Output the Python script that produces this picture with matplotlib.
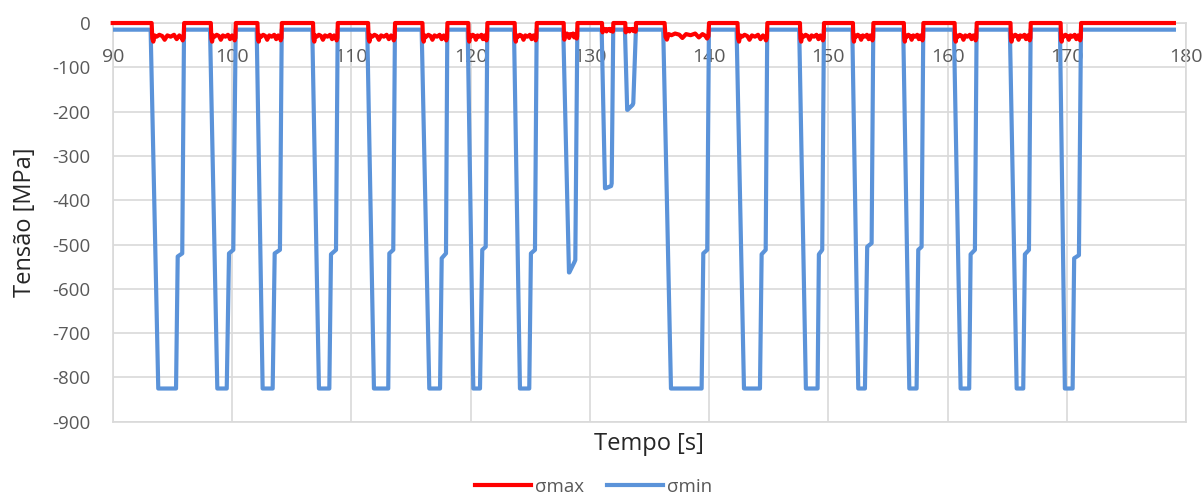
import matplotlib
matplotlib.use("Agg")
import matplotlib.pyplot as plt

plt.rcParams['font.family'] = ['Open Sans', 'DejaVu Sans']
plt.rcParams['axes.unicode_minus'] = False

# time limits of the signal
t_first = 90.0
t_last = 178.96

# blue (sigma min) keypoints per load cycle
cycle_start  = [93.18, 98.16, 102.07, 106.73, 111.34, 115.90, 119.76, 123.64, 127.77, 130.99, 132.94, 136.15, 142.30, 147.55, 152.00, 156.27, 160.52, 165.21, 169.41]
bottom_start = [93.82, 98.77, 102.57, 107.29, 111.90, 116.54, 120.23, 124.14, 128.25, 131.27, 133.13, 136.80, 142.92, 148.11, 152.50, 156.78, 161.08, 165.78, 169.82]
bottom_end   = [95.31, 99.56, 103.41, 108.16, 113.10, 117.44, 120.79, 124.92, 128.28, 131.30, 133.16, 139.37, 144.26, 149.09, 153.06, 157.39, 161.80, 166.33, 170.47]
step_start   = [95.45, 99.75, 103.58, 108.30, 113.19, 117.58, 120.98, 125.06, 128.70, 131.78, 133.58, 139.51, 144.40, 149.20, 153.25, 157.53, 161.92, 166.47, 170.60]
step_end     = [95.83, 100.11, 104.02, 108.72, 113.52, 117.94, 121.27, 125.40, 128.78, 131.83, 133.64, 139.84, 144.74, 149.48, 153.62, 157.81, 162.28, 166.81, 171.00]
cycle_end    = [95.98, 100.31, 104.17, 108.86, 113.66, 118.05, 121.40, 125.54, 128.95, 131.96, 133.86, 139.98, 144.87, 149.62, 153.76, 157.95, 162.42, 166.95, 171.17]
bottom_val   = [-825, -825, -825, -825, -825, -825, -825, -825, -563, -373, -196, -825, -825, -825, -825, -825, -825, -825, -825]
step_lo_val  = [-527, -520, -520, -522, -520, -531, -512, -520, -540, -368, -185, -520, -522, -522, -505, -512, -522, -522, -531]
step_hi_val  = [-520, -512, -512, -512, -512, -520, -505, -512, -535, -362, -181, -512, -512, -512, -497, -505, -512, -512, -524]
blue_top = -15

# red (sigma max) dip depth per cycle and the rough dip shape
red_depth = [-28, -28, -28, -28, -28, -28, -28, -28, -25, -14, -14, -25, -28, -28, -28, -28, -28, -28, -28]
red_shape_pos = [0.05, 0.08, 0.12, 0.18, 0.26, 0.35, 0.42, 0.50, 0.60, 0.70, 0.78, 0.86, 0.92, 0.96, 0.99]
red_shape_val = [1.25, 1.5, 1.0, 1.1, 0.95, 1.05, 1.35, 1.0, 1.1, 0.95, 1.3, 1.0, 1.15, 1.4, 1.2]

xticks = [90, 100, 110, 120, 130, 140, 150, 160, 170, 180]
yticks = [0, -100, -200, -300, -400, -500, -600, -700, -800, -900]

# build the two polylines
bt, bv = [t_first], [blue_top]
rt, rv = [t_first], [0]
for i in range(len(cycle_start)):
    bt += [cycle_start[i], bottom_start[i], bottom_end[i], step_start[i], step_end[i], cycle_end[i]]
    bv += [blue_top, bottom_val[i], bottom_val[i], step_lo_val[i], step_hi_val[i], blue_top]
    a, b = cycle_start[i], cycle_end[i]
    rt.append(a + 0.03 * (b - a))
    rv.append(0)
    for p, s in zip(red_shape_pos, red_shape_val):
        rt.append(a + p * (b - a))
        rv.append(red_depth[i] * s)
    rt.append(b + 0.01)
    rv.append(0)
bt.append(t_last)
bv.append(blue_top)
rt.append(t_last)
rv.append(0)

fig = plt.figure(figsize=(12.04, 4.95), dpi=100)
ax = fig.add_axes([0.0936, 0.148, 0.8917, 0.8055])

ax.plot(bt, bv, color='#5B93D9', lw=3.0, zorder=3, label='σmin', solid_joinstyle='round')
ax.plot(rt, rv, color='#FF0000', lw=3.0, zorder=4, label='σmax', clip_on=False)

ax.set_xlim(90, 180)
ax.set_ylim(-900, 0)
ax.set_xticks(xticks)
ax.set_yticks(yticks)
ax.grid(True, color='#D9D9D9', lw=1.2)
ax.set_axisbelow(True)
for s in ax.spines.values():
    s.set_color('#D9D9D9')
    s.set_linewidth(1.2)

ax.tick_params(axis='x', bottom=False, labelbottom=False, top=False, labeltop=True,
               length=0, pad=-31, labelsize=14, labelcolor='#595959')
ax.tick_params(axis='y', length=0, pad=16, labelsize=13.5, labelcolor='#595959')

ax.set_ylabel('Tensão [MPa]', fontsize=17, color='#262626', labelpad=11)
fig.text(0.539, 0.103, 'Tempo [s]', fontsize=17, color='#262626', ha='center', va='center')

handles, labels = ax.get_legend_handles_labels()
fig.legend(handles[::-1], labels[::-1], loc='center', bbox_to_anchor=(0.493, 0.017),
           ncol=2, frameon=False, fontsize=13.5, labelcolor='#595959',
           handlelength=3.0, handletextpad=0.2, columnspacing=1.2)

fig.savefig('out.png', dpi=100)
